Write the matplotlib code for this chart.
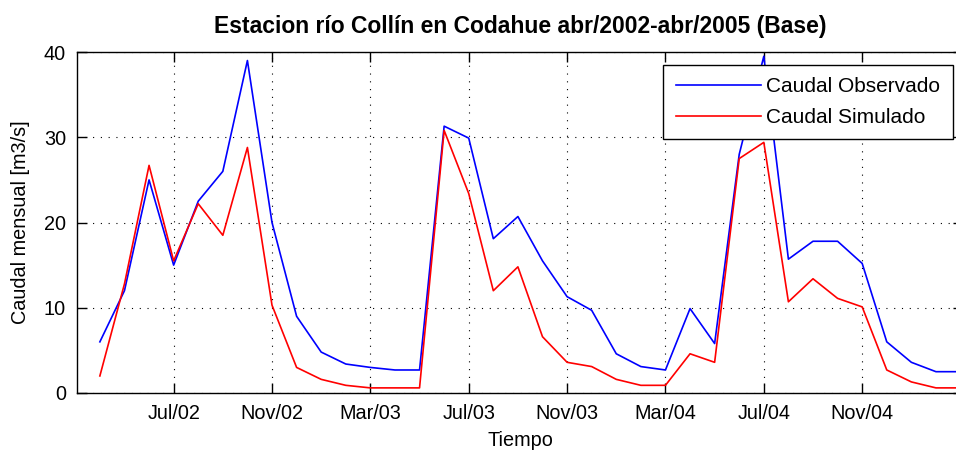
import numpy as np
import matplotlib
matplotlib.use("Agg")
import matplotlib.pyplot as plt

months = ["Apr/02", "May/02", "Jun/02", "Jul/02", "Aug/02", "Sep/02", "Oct/02", "Nov/02", "Dec/02",
          "Jan/03", "Feb/03", "Mar/03", "Apr/03", "May/03", "Jun/03", "Jul/03", "Aug/03", "Sep/03",
          "Oct/03", "Nov/03", "Dec/03", "Jan/04", "Feb/04", "Mar/04", "Apr/04", "May/04", "Jun/04",
          "Jul/04", "Aug/04", "Sep/04", "Oct/04", "Nov/04", "Dec/04", "Jan/05", "Feb/05", "Mar/05"]

observado = [6.0, 12.0, 25.0, 15.0, 22.5, 26.0, 39.0, 20.0, 9.0,
             4.8, 3.4, 3.0, 2.7, 2.7, 31.3, 29.9, 18.1, 20.7,
             15.5, 11.3, 9.7, 4.6, 3.1, 2.7, 9.9, 5.8, 28.0,
             39.5, 15.7, 17.8, 17.8, 15.2, 6.0, 3.6, 2.5, 2.5]

simulado = [2.0, 12.8, 26.7, 15.5, 22.2, 18.5, 28.8, 10.3, 3.0,
            1.6, 0.9, 0.6, 0.6, 0.6, 30.8, 23.4, 12.0, 14.8,
            6.6, 3.6, 3.1, 1.6, 0.9, 0.9, 4.6, 3.6, 27.5,
            29.4, 10.7, 13.4, 11.1, 10.1, 2.7, 1.3, 0.6, 0.6]

tick_labels = ["Jul/02", "Nov/02", "Mar/03", "Jul/03", "Nov/03", "Mar/04", "Jul/04", "Nov/04"]
y_ticks = [0, 10, 20, 30, 40]

plt.rcParams['font.family'] = ['Liberation Sans', 'DejaVu Sans']
FS = 14.3

W, H = 956, 453
fig = plt.figure(figsize=(W / 100, H / 100), dpi=100)
ax_l, ax_r, ax_t, ax_b = 77, 963, 52, 393
ax = fig.add_axes([ax_l / W, 1 - ax_b / H, (ax_r - ax_l) / W, (ax_b - ax_t) / H])

x = np.arange(len(months))
ax.plot(x, observado, color='#0000ff', lw=1.2, label='Caudal Observado')
ax.plot(x, simulado, color='#ff0000', lw=1.2, label='Caudal Simulado')

ax.set_xlim(-0.93, 35.1)
ax.set_ylim(0, 40)
tick_pos = [months.index(t) for t in tick_labels]
ax.set_xticks(tick_pos)
ax.set_xticklabels(tick_labels, fontsize=FS)
ax.set_yticks(y_ticks)
ax.set_yticklabels([str(v) for v in y_ticks], fontsize=FS)

ax.tick_params(direction='in', length=7, width=1, top=True, right=True, pad=8)
ax.grid(True, color='black', linestyle=(0, (1, 6)), lw=0.8)
for s in ax.spines.values():
    s.set_linewidth(1.0)

ax.set_title('Estacion río Collín en Codahue abr/2002-abr/2005 (Base)', fontsize=16.5, fontweight='bold', pad=14)
ax.set_xlabel('Tiempo', fontsize=FS, labelpad=6)
ax.set_ylabel('Caudal mensual [m3/s]', fontsize=FS, labelpad=10)

leg = ax.legend(loc='upper right', bbox_to_anchor=(1 - (ax_r - 953) / (ax_r - ax_l), 1 - 13 / (ax_b - ax_t)),
                borderaxespad=0, fontsize=15, fancybox=False, edgecolor='black', framealpha=1,
                handlelength=4.1, handletextpad=0.25, labelspacing=0.55, borderpad=0.6)
leg.get_frame().set_linewidth(1.0)

fig.savefig('out.png', dpi=100)
